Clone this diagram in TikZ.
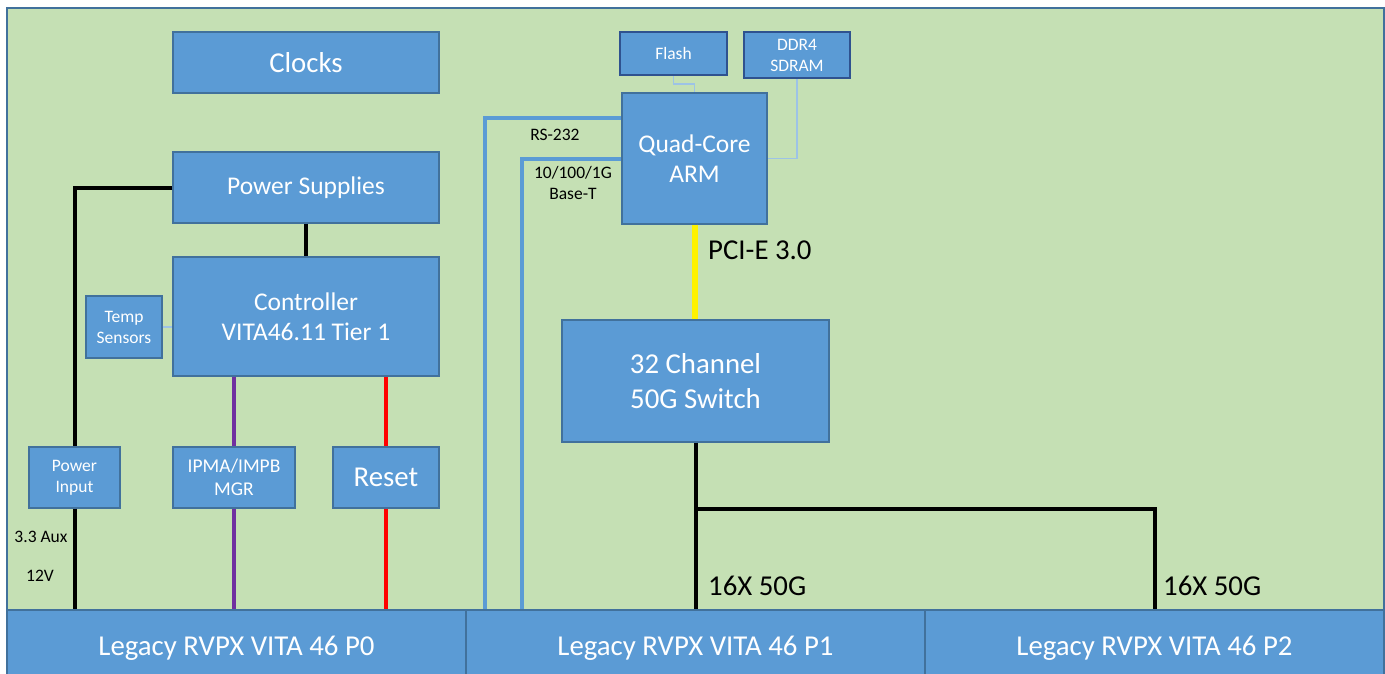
\documentclass[tikz,border=0pt]{standalone}
\usepackage{fontspec}
\setmainfont{Carlito}
\usetikzlibrary{calc}
\definecolor{boxblue}{HTML}{5B9BD5}
\definecolor{boxedge}{HTML}{41719C}
\definecolor{bggreen}{HTML}{C5E0B4}
\definecolor{thinblue}{HTML}{9DC3E6}
\definecolor{darkedge}{HTML}{2F528F}
\definecolor{purp}{HTML}{7030A0}
\begin{document}
\begin{tikzpicture}[x=1pt,y=-1pt,
  box/.style={draw=boxedge, line width=1.2pt, fill=boxblue, text=white, align=center, inner sep=0pt},
  memb/.style={box, draw=darkedge, line width=1.8pt},
  bigf/.style={font=\fontsize{28.8}{34.5}\selectfont},
  midf/.style={font=\fontsize{25.5}{30.5}\selectfont},
  smallf/.style={font=\fontsize{17.5}{21}\selectfont},
  ipmaf/.style={font=\fontsize{19.5}{23}\selectfont},
  lbl/.style={text=black, inner sep=0pt, align=center},
  pwr/.style={draw=black, line width=4pt},
  bus/.style={draw=boxblue, line width=4pt},
  thin/.style={draw=thinblue, line width=1.3pt}]
\useasboundingbox (0,0) rectangle (1385,673);
\fill[white] (0,0) rectangle (1385,673);
\draw[draw=boxedge, fill=bggreen, line width=1.2pt] (7,8) rectangle (1384,700);

% left column
\node[box, bigf, minimum width=266pt, minimum height=61pt] (clocks) at (306,62.5) {Clocks};
\node[box, midf, minimum width=266pt, minimum height=71pt] (psu) at (306,187.5) {Power Supplies};
\node[box, midf, minimum width=266pt, minimum height=119pt] (ctrl) at (306,316.5) {Controller\\VITA46.11 Tier 1};
\node[box, smallf, minimum width=76pt, minimum height=62pt] (temp) at (124,327) {Temp\\Sensors};
\node[box, smallf, minimum width=91pt, minimum height=61pt] (pin) at (74.5,477.5) {Power\\Input};
\node[box, ipmaf, minimum width=122pt, minimum height=61pt] (ipma) at (234,477.5) {IPMA/IMPB\\MGR};
\node[box, bigf, minimum width=106pt, minimum height=61pt] (reset) at (386,477.5) {Reset};

% right column
\node[memb, smallf, minimum width=107pt, minimum height=43pt] (flash) at (673.5,53.5) {Flash};
\node[memb, smallf, minimum width=106pt, minimum height=46pt] (ddr) at (797,55) {DDR4\\SDRAM};
\node[box, midf, minimum width=145pt, minimum height=131pt] (arm) at (694.5,158.5) {Quad-Core\\ARM};
\node[box, bigf, minimum width=267pt, minimum height=122pt] (sw) at (695.5,381) {32 Channel\\50G Switch};

% connector bars
\node[box, bigf, minimum width=459pt, minimum height=76pt] (p0) at (236.5,648) {Legacy RVPX VITA 46 P0};
\node[box, bigf, minimum width=459pt, minimum height=76pt] (p1) at (695.5,648) {Legacy RVPX VITA 46 P1};
\node[box, bigf, minimum width=459pt, minimum height=76pt] (p2) at (1154.5,648) {Legacy RVPX VITA 46 P2};

% power connectors
\draw[pwr] (psu.west) -| (pin.north);
\draw[pwr] (pin.south) -- (pin.south |- p0.north);
\draw[pwr] (psu.south) -- (ctrl.north);
\draw[draw=purp, line width=4pt] (ipma.north |- ctrl.south) -- (ipma.north);
\draw[draw=purp, line width=4pt] (ipma.south) -- (ipma.south |- p0.north);
\draw[draw=red, line width=4pt] (reset.north |- ctrl.south) -- (reset.north);
\draw[draw=red, line width=4pt] (reset.south) -- (reset.south |- p0.north);
\draw[thin] (temp.east) -- (temp.east -| ctrl.west);

% memory connectors
\draw[thin] (flash.south) -- ++(0,8) -| (arm.north);
\draw[thin] (ddr.south) |- (arm.east);

% serial / ethernet
\coordinate (rs) at (485,118);
\coordinate (eth) at (522,158.5);
\draw[bus] (rs -| arm.west) -- (rs) -- (rs |- p1.north);
\draw[bus] (arm.west) -- (eth) -- (eth |- p1.north);

% PCIe
\draw[draw=yellow, line width=6pt] (arm.south) -- (arm.south |- sw.north);

% switch fan-out
\coordinate (j) at (695.5,509);
\draw[pwr] (sw.south) -- (sw.south |- p1.north);
\draw[pwr] (j) -| (p2.north);

% labels
\node[lbl, smallf] (l33) at (41,537) {3.3 Aux};
\node[lbl, smallf] (l12) at (40,576) {12V};
\node[lbl, smallf] (lrs) at (555,135) {RS-232};
\node[lbl, smallf] (leth) at (573,183) {10/100/1G\\Base-T};
\node[lbl, bigf, anchor=west] (lpci) at (708,250) {PCI-E 3.0};
\node[lbl, bigf, anchor=west] (l16a) at (708,586) {16X 50G};
\node[lbl, bigf, anchor=west] (l16b) at (1163,586) {16X 50G};
\end{tikzpicture}
\end{document}
